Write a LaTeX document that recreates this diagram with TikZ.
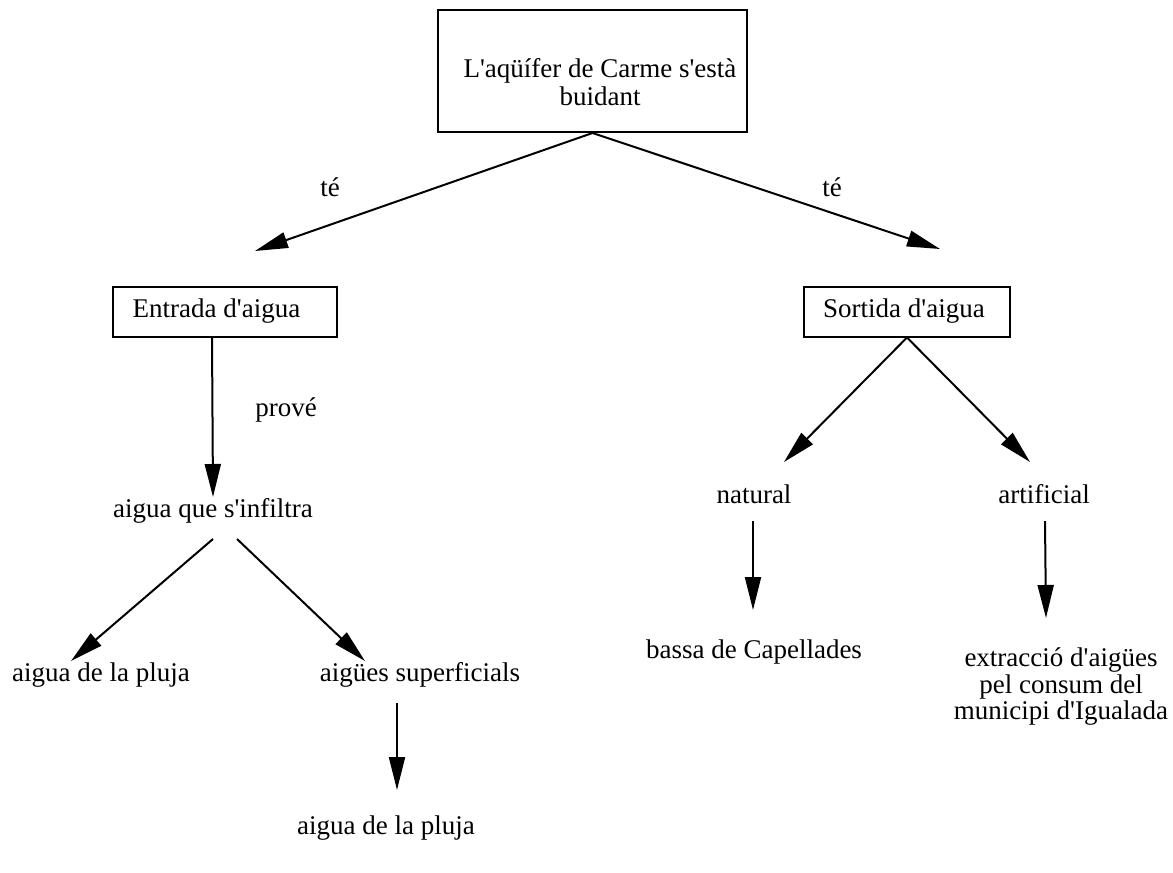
\documentclass[tikz,border=0pt]{standalone}
\usepackage{fontspec}
\setmainfont{Liberation Serif}[Ligatures=TeXOff]
\usetikzlibrary{arrows.meta}
\begin{document}
\begin{tikzpicture}[x=1pt,y=-1pt,
  every node/.style={font=\fontsize{27}{28}\selectfont, inner sep=0pt},
  lbl/.style={text height=19pt, text depth=6.5pt},
  boxed/.style={draw, line width=2pt, minimum height=50pt},
  conn/.style={line width=2pt},
  arr/.style={conn, -{Triangle[length=33pt,width=16pt]}}]
\useasboundingbox (0,0) rectangle (1173,873);
% nodes
\node[boxed, minimum width=309pt, minimum height=122pt] (top) at (592.5,71) {};
\node[align=center] (toptxt) at (600,82) {L'aqüífer de Carme s'està\\buidant};
\node[boxed, minimum width=224pt, minimum height=50pt] (ent) at (224.5,311.5) {};
\node[lbl] (enttxt) at (216.5,311) {Entrada d'aigua};
\node[boxed, minimum width=206pt, minimum height=50pt] (sor) at (907,311.5) {};
\node[lbl] (sortxt) at (904,311) {Sortida d'aigua};
\node[lbl] (te1) at (330,190) {té};
\node[lbl] (te2) at (832,190) {té};
\node[lbl] (prove) at (286,410) {prové};
\node[lbl] (inf) at (213,511) {aigua que s'infiltra};
\node[lbl] (pl1) at (101,675) {aigua de la pluja};
\node[lbl] (sup) at (420,675) {aigües superficials};
\node[lbl] (pl2) at (386,828) {aigua de la pluja};
\node[lbl] (nat) at (754,497) {natural};
\node[lbl] (art) at (1044,497) {artificial};
\node[lbl] (bas) at (754,652) {bassa de Capellades};
\node[align=center, font=\fontsize{27}{26.5}\selectfont] (ext) at (1061,687) {extracció d'aigües\\pel consum del\\municipi d'Igualada};
% connectors
\draw[arr] (top.south) -- ([shift={(30.5,-34.5)}]ent.north);
\draw[arr] (top.south) -- ([shift={(33,-36.5)}]sor.north);
\draw[arr] ([shift={(-12.5,0)}]ent.south) -- ([shift={(0,-14)}]inf.center);
\draw[arr] ([shift={(0,28)}]inf.center) -- ([shift={(-30,-14)}]pl1.center);
\draw[arr] ([shift={(24,28)}]inf.center) -- ([shift={(-55,-14)}]sup.center);
\draw[arr] ([shift={(-23,28)}]sup.center) -- ([shift={(11,-38)}]pl2.center);
\draw[arr] (sor.south) -- ([shift={(30,-35)}]nat.center);
\draw[arr] (sor.south) -- ([shift={(-14,-35)}]art.center);
\draw[arr] ([shift={(-1,24)}]nat.center) -- ([shift={(-1,-42)}]bas.center);
\draw[arr] ([shift={(1,24)}]art.center) -- ([shift={(-15,-69)}]ext.center);
\end{tikzpicture}
\end{document}
